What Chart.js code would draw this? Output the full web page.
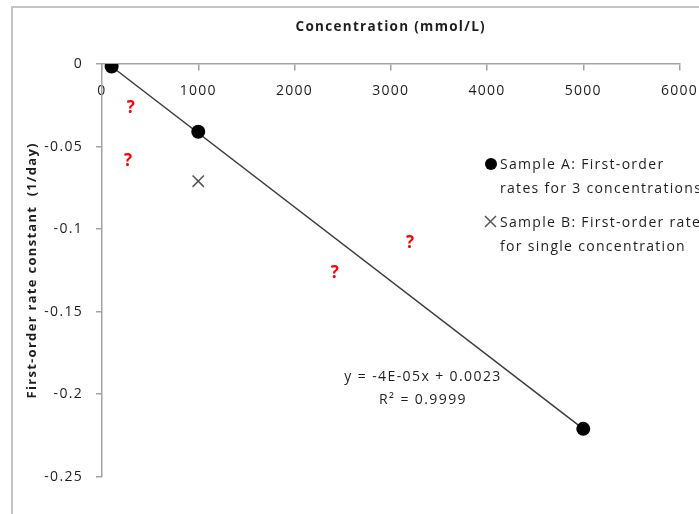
<!DOCTYPE html>
<html>
<head>
<meta charset="utf-8">
<script src="https://cdn.jsdelivr.net/npm/chart.js@4.4.1/dist/chart.umd.min.js"></script>
<style>
  html, body { margin: 0; padding: 0; background: #ffffff; }
  #wrap { position: relative; width: 699px; height: 514px; overflow: hidden; }
  #frame { position: absolute; left: 11px; top: 6px; width: 740px; height: 560px; border: 2px solid #c4c4c4; box-sizing: border-box; }
  canvas { position: absolute; left: 0; top: 0; }
</style>
</head>
<body>
<div id="wrap">
  <div id="frame"></div>
  <canvas id="c" width="699" height="514"></canvas>
</div>
<script>
// ---- data ----
const xTicks = [0, 1000, 2000, 3000, 4000, 5000, 6000];
const yTicks = [0, -0.05, -0.1, -0.15, -0.2, -0.25];
const sampleAConc = [100, 1000, 5000];
const sampleARate = [-0.0015, -0.041, -0.221];
const sampleBConc = [1000];
const sampleBRate = [-0.071];
const trendConc = [100, 5000];
const trendRate = [-0.0015, -0.221];
const questionConc = [300, 270, 2420, 3200];
const questionRate = [-0.027, -0.059, -0.127, -0.1085];

const xTitle = 'Concentration (mmol/L)';
const yTitle = 'First-order rate constant  (1/day)';
const legendA = ['Sample A: First-order', 'rates for 3 concentrations'];
const legendB = ['Sample B: First-order rate', 'for single concentration'];
const eqLines = ['y = -4E-05x + 0.0023', 'R\u00B2 = 0.9999'];

const FONT = '"Open Sans", Lato, sans-serif';
const TEXT = '#1e1e1e';
const AXIS = '#a3a3a3';
const SPACING = '1.3px';

const toPts = (xs, ys) => xs.map((x, i) => ({x: x, y: ys[i]}));

const spacingPlugin = {
  id: 'spacing',
  beforeUpdate(chart) { chart.ctx.letterSpacing = SPACING; },
  beforeDraw(chart) { chart.ctx.letterSpacing = SPACING; }
};

const annotPlugin = {
  id: 'annot',
  afterDraw(chart) {
    const ctx = chart.ctx;
    const xs = chart.scales.x, ys = chart.scales.y;
    ctx.save();
    ctx.letterSpacing = '0px';
    // question marks
    ctx.fillStyle = '#ff0000';
    ctx.font = 'bold 17px ' + FONT;
    ctx.textAlign = 'center';
    ctx.textBaseline = 'middle';
    questionConc.forEach((c, i) => {
      ctx.fillText('?', xs.getPixelForValue(c), ys.getPixelForValue(questionRate[i]));
    });
    // trendline equation
    ctx.letterSpacing = '1.4px';
    ctx.fillStyle = TEXT;
    ctx.font = '14px ' + FONT;
    ctx.fillText(eqLines[0], 423, 377);
    ctx.fillText(eqLines[1], 423, 400);
    // legend
    ctx.letterSpacing = SPACING;
    ctx.font = '14px ' + FONT;
    ctx.textAlign = 'left';
    ctx.fillStyle = '#000';
    ctx.beginPath();
    ctx.arc(491, 164, 6, 0, Math.PI * 2);
    ctx.fill();
    ctx.strokeStyle = '#555';
    ctx.lineWidth = 1.5;
    ctx.beginPath();
    ctx.moveTo(485, 216); ctx.lineTo(496, 227);
    ctx.moveTo(496, 216); ctx.lineTo(485, 227);
    ctx.stroke();
    ctx.fillStyle = TEXT;
    ctx.fillText(legendA[0], 500, 165);
    ctx.fillText(legendA[1], 500, 189);
    ctx.fillText(legendB[0], 500, 223);
    ctx.fillText(legendB[1], 500, 247);
    ctx.restore();
  }
};

new Chart(document.getElementById('c'), {
  type: 'scatter',
  data: {
    datasets: [
      {
        label: 'Sample A',
        data: toPts(sampleAConc, sampleARate),
        pointStyle: 'circle',
        pointRadius: 7,
        pointHoverRadius: 7,
        backgroundColor: '#000',
        borderColor: '#000',
        borderWidth: 0,
        order: 1
      },
      {
        label: 'Sample B',
        data: toPts(sampleBConc, sampleBRate),
        pointStyle: 'crossRot',
        pointRadius: 8,
        borderColor: '#555',
        borderWidth: 1.5,
        order: 2
      },
      {
        type: 'line',
        label: 'Trend',
        data: toPts(trendConc, trendRate),
        borderColor: '#3c3c3c',
        borderWidth: 1.5,
        pointRadius: 0,
        fill: false,
        order: 3
      }
    ]
  },
  options: {
    responsive: false,
    animation: false,
    events: [],
    layout: { padding: { left: 24.5, right: 19.5, top: 0, bottom: 37.3 } },
    plugins: {
      legend: { display: false },
      tooltip: { enabled: false },
      title: {
        display: true,
        text: xTitle,
        fullSize: false,
        color: TEXT,
        font: { family: FONT, size: 13.5, weight: 'bold', lineHeight: 1.2 },
        padding: { top: 18.9, bottom: 28.9 }
      }
    },
    scales: {
      x: {
        type: 'linear',
        position: { y: 0 },
        min: 0,
        max: 6000,
        afterBuildTicks(s) { s.ticks = xTicks.map(v => ({value: v})); },
        afterFit(s) { s.paddingLeft = 0; s.paddingRight = 0; },
        grid: { drawOnChartArea: false, drawTicks: true, tickLength: 6, color: AXIS, lineWidth: 1.5 },
        border: { display: true, color: AXIS, width: 1.5 },
        ticks: {
          padding: 12.3,
          color: TEXT,
          maxRotation: 0,
          autoSkip: false,
          font: { family: FONT, size: 14, lineHeight: 1.2 },
          callback: v => String(v)
        }
      },
      y: {
        type: 'linear',
        position: 'left',
        min: -0.25,
        max: 0,
        afterBuildTicks(s) { s.ticks = yTicks.map(v => ({value: v})); },
        afterFit(s) { s.width = 77.5; s.paddingTop = 0; s.paddingBottom = 0; },
        grid: { drawOnChartArea: false, drawTicks: true, tickLength: 6, color: AXIS, lineWidth: 1.5 },
        border: { display: true, color: AXIS, width: 1.5 },
        ticks: {
          padding: 13,
          color: TEXT,
          autoSkip: false,
          font: { family: FONT, size: 14, lineHeight: 1.2 },
          callback: v => String(v)
        },
        title: {
          display: true,
          text: yTitle,
          color: TEXT,
          padding: 0,
          font: { family: FONT, size: 13, weight: 'bold', lineHeight: 1.2 }
        }
      }
    }
  },
  plugins: [spacingPlugin, annotPlugin]
});
</script>
</body>
</html>
